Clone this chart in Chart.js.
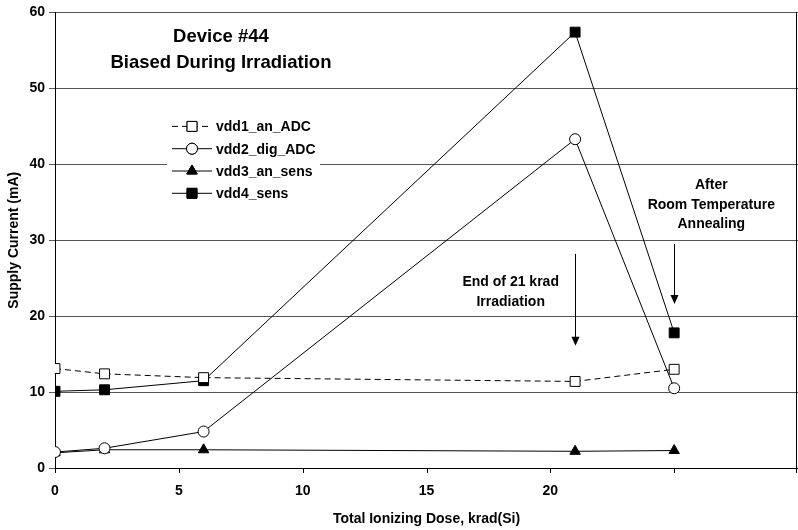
<!DOCTYPE html>
<html>
<head>
<meta charset="utf-8">
<script src="https://cdn.jsdelivr.net/npm/chart.js@4.4.1/dist/chart.umd.min.js"></script>
<style>
  html, body { margin: 0; padding: 0; background: #fff; overflow: hidden; }
  #wrap { width: 798px; height: 530px; overflow: hidden; }
</style>
</head>
<body>
<!-- canvas is a bit wider than the page: chart.js keeps ~8px free on the right -->
<div id="wrap"><canvas id="chart" width="806" height="530"></canvas></div>
<script>
// dose points, krad(Si); the last one is after room temperature annealing
const dose = [0, 2, 6, 21, 25];
const vdd1_an_ADC = [13.1, 12.4, 11.9, 11.4, 13.0];
const vdd2_dig_ADC = [2.1, 2.6, 4.8, 43.3, 10.5];
const vdd3_an_sens = [2.0, 2.4, 2.4, 2.2, 2.3];
const vdd4_sens = [10.1, 10.3, 11.5, 57.4, 17.8];

const seriesNames = ['vdd1_an_ADC', 'vdd2_dig_ADC', 'vdd3_an_sens', 'vdd4_sens'];
const xTickMax = 20; // labels shown only up to here

const FONT = 'Liberation Sans, Arial, sans-serif';

function pts(vals) {
  return vals.map((v, i) => ({ x: dose[i], y: v }));
}

const datasets = [
  { label: seriesNames[0], data: pts(vdd1_an_ADC), borderDash: [6, 4],
    pointStyle: 'rect', pointRadius: 7, pointBackgroundColor: '#fff' },
  { label: seriesNames[1], data: pts(vdd2_dig_ADC),
    pointStyle: 'circle', pointRadius: 5.5, pointBackgroundColor: '#fff' },
  { label: seriesNames[2], data: pts(vdd3_an_sens),
    pointStyle: 'triangle', pointRadius: 6, pointBackgroundColor: '#000' },
  { label: seriesNames[3], data: pts(vdd4_sens),
    pointStyle: 'rect', pointRadius: 7, pointBackgroundColor: '#000' }
].map(d => Object.assign({
  borderColor: '#000', borderWidth: 1, pointBorderColor: '#000',
  pointBorderWidth: 1, tension: 0, fill: false
}, d));

// text notes and arrows, placed in data units
const notes = [
  { x: 6.7, y: 56.8, text: 'Device #44', size: 18.5 },
  { x: 6.7, y: 53.4, text: 'Biased During Irradiation', size: 18.5 },
  { x: 18.4, y: 24.5, text: 'End of 21 krad', size: 14 },
  { x: 18.4, y: 21.8, text: 'Irradiation', size: 14 },
  { x: 26.5, y: 37.2, text: 'After', size: 14 },
  { x: 26.5, y: 34.6, text: 'Room Temperature', size: 14 },
  { x: 26.5, y: 32.1, text: 'Annealing', size: 14 }
];
const arrows = [
  { x: 21, from: 28.2, to: 16.1 },
  { x: 25, from: 29.5, to: 21.6 }
];

const extras = {
  id: 'extras',
  beforeDatasetsDraw(chart) {
    const ctx = chart.ctx, a = chart.chartArea, xs = chart.scales.x;
    const rx = Math.min(a.right, 797) - 0.5;
    ctx.save();
    ctx.strokeStyle = '#000';
    ctx.lineWidth = 1;
    ctx.beginPath();
    ctx.moveTo(rx, a.top);
    ctx.lineTo(rx, a.bottom + 5);
    // short x tick marks below the axis
    xs.ticks.forEach(t => {
      const px = Math.round(xs.getPixelForValue(t.value)) + 0.5;
      ctx.moveTo(px, a.bottom);
      ctx.lineTo(px, a.bottom + 5);
    });
    ctx.stroke();
    ctx.restore();
  },
  afterDatasetsDraw(chart) {
    const ctx = chart.ctx, xs = chart.scales.x, ys = chart.scales.y;
    const a = chart.chartArea;
    ctx.save();
    ctx.fillStyle = '#000';
    ctx.textAlign = 'center';
    ctx.textBaseline = 'middle';
    notes.forEach(n => {
      ctx.font = 'bold ' + n.size + 'px ' + FONT;
      ctx.fillText(n.text, xs.getPixelForValue(n.x), ys.getPixelForValue(n.y));
    });
    ctx.strokeStyle = '#000';
    ctx.lineWidth = 1;
    arrows.forEach(ar => {
      const px = Math.round(xs.getPixelForValue(ar.x)) + 0.5;
      const y0 = ys.getPixelForValue(ar.from), y1 = ys.getPixelForValue(ar.to);
      ctx.beginPath();
      ctx.moveTo(px, y0);
      ctx.lineTo(px, y1 - 8);
      ctx.stroke();
      ctx.beginPath();
      ctx.moveTo(px, y1);
      ctx.lineTo(px - 4, y1 - 9);
      ctx.lineTo(px + 4, y1 - 9);
      ctx.closePath();
      ctx.fill();
    });

    // legend box: line - marker - line, then name
    const lx = a.left + 112, ly = a.top + 104;
    ctx.fillStyle = '#fff';
    ctx.fillRect(lx, ly, 153, 90);
    ctx.font = 'bold 14px ' + FONT;
    ctx.textAlign = 'left';
    chart.data.datasets.forEach((ds, i) => {
      const y = ly + 10 + i * 22.3;
      const x0 = lx + 5, x1 = lx + 45, xm = (x0 + x1) / 2;
      ctx.strokeStyle = '#000';
      ctx.setLineDash(ds.borderDash || []);
      ctx.beginPath();
      ctx.moveTo(x0, y);
      ctx.lineTo(x1, y);
      ctx.stroke();
      ctx.setLineDash([]);
      ctx.fillStyle = ds.pointBackgroundColor;
      Chart.helpers.drawPoint(ctx, {
        pointStyle: ds.pointStyle, radius: ds.pointRadius, borderWidth: 1
      }, xm, y);
      ctx.fill();
      ctx.stroke();
      ctx.fillStyle = '#000';
      ctx.fillText(ds.label, x1 + 4, y + 1);
    });
    ctx.restore();
  }
};

new Chart(document.getElementById('chart'), {
  type: 'line',
  data: { datasets: datasets },
  options: {
    responsive: false,
    animation: false,
    layout: { padding: { top: 8, right: 0, left: 0, bottom: 0 } },
    plugins: {
      legend: { display: false },
      tooltip: { enabled: false }
    },
    scales: {
      x: {
        type: 'linear', min: 0, max: 30,
        afterFit(s) { s.height = 62; },
        ticks: {
          stepSize: 5, color: '#000', padding: 0,
          font: { family: FONT, size: 14, weight: 'bold' },
          callback: v => (v <= xTickMax ? v : '')
        },
        // long invisible ticks push labels down; short marks drawn by plugin
        grid: { drawOnChartArea: false, tickLength: 15, tickColor: 'rgba(0,0,0,0)' },
        border: { color: '#000', width: 1 },
        title: {
          display: true, text: 'Total Ionizing Dose, krad(Si)', color: '#000',
          font: { family: FONT, size: 14, weight: 'bold' },
          padding: { top: 0, bottom: 2 }
        }
      },
      y: {
        min: 0, max: 60,
        afterFit(s) { s.width = 55; },
        ticks: {
          stepSize: 10, color: '#000', padding: 4,
          font: { family: FONT, size: 14, weight: 'bold' }
        },
        grid: { color: '#555', tickLength: 6 },
        border: { color: '#000', width: 1 },
        title: {
          display: true, text: 'Supply Current (mA)', color: '#000',
          font: { family: FONT, size: 14, weight: 'bold' },
          padding: { top: 6, bottom: 0 }
        }
      }
    }
  },
  plugins: [extras]
});
</script>
</body>
</html>
